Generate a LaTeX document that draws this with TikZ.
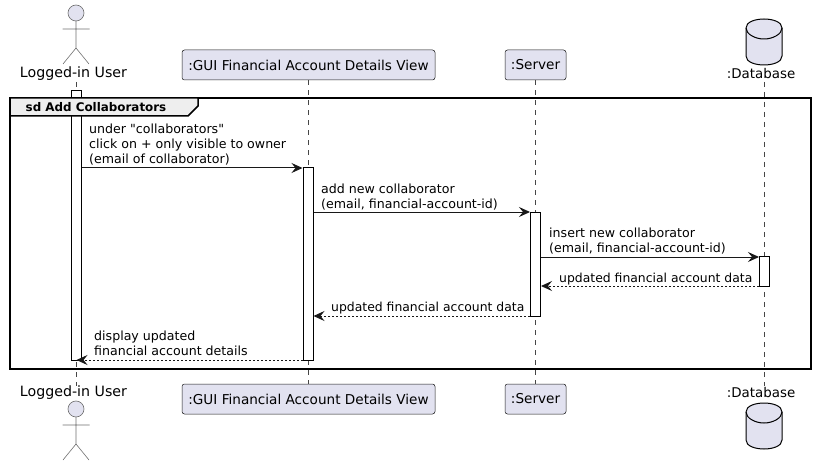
\documentclass[tikz,border=0pt]{standalone}
\usepackage{fontspec}
\setmainfont{DejaVu Sans}
\newfontfamily\msgfont{DejaVu Sans}
\usetikzlibrary{arrows.meta}
\begin{document}
\begin{tikzpicture}[x=1pt, y=-1pt]

    % Colors of the sequence chart
    \definecolor{partcol}{RGB}{226,226,240}
    \definecolor{tabcol}{RGB}{238,238,238}
    \definecolor{inkcol}{RGB}{24,24,24}
    \definecolor{stickcol}{RGB}{110,110,110}

    % Common styles
    \tikzset{
        partbox/.style={draw=inkcol, line width=0.5pt, fill=partcol, rounded corners=2.5pt,
            minimum height=30pt, inner xsep=0pt, inner ysep=0pt, font=\fontsize{13.6}{16}\selectfont},
        partlabel/.style={inner sep=0pt, minimum height=16pt, font=\fontsize{14.2}{16}\selectfont},
        lifeline/.style={draw=inkcol!80, line width=0.5pt, dash pattern=on 5pt off 5pt},
        actbar/.style={draw=black, line width=1pt, fill=white, minimum width=10pt, inner sep=0pt},
        msgtext/.style={anchor=south west, align=left, inner sep=0pt, text depth=0pt,
            font=\msgfont\fontsize{12.6}{15}\selectfont},
        shorttext/.style={msgtext, font=\msgfont\fontsize{12.4}{15}\selectfont},
        callmsg/.style={draw=inkcol, line width=1pt, -{Stealth[length=11pt, width=10pt, inset=4pt]}},
        backmsg/.style={draw=inkcol, line width=1pt, dash pattern=on 2pt off 2pt,
            -{Stealth[length=11pt, width=10pt, inset=4pt]}},
        stickman/.pic={
            \draw[stickcol, line width=0.6pt, fill=partcol] (0,13) circle (8);
            \draw[stickcol, line width=0.6pt] (0,21) -- (0,48) (-13.5,29) -- (13.5,29)
                (-13,64) -- (0,48) -- (13,64);
        },
        dbdrum/.pic={
            \draw[black, line width=1pt, fill=partcol] (-18,28) .. controls (-18,22) and (-9,19) .. (0,19)
                .. controls (9,19) and (18,22) .. (18,28) -- (18,56)
                .. controls (18,62) and (9,65) .. (0,65)
                .. controls (-9,65) and (-18,62) .. (-18,56) -- cycle;
            \draw[black, line width=1pt] (-18,28) .. controls (-18,34) and (-9,39) .. (0,39)
                .. controls (9,39) and (18,34) .. (18,28);
        }
    }

    \useasboundingbox (0,0) rectangle (816,465);

    % ============== Participants on top ==============
    \pic at (76,0) {stickman};
    \node[partlabel] (usertop) at (73.5,74) {Logged-in User};
    \node[partbox, minimum width=253pt] (guitop) at (308.5,65) {:GUI Financial Account Details View};
    \node[partbox, minimum width=61pt] (servertop) at (535.5,65) {:Server};
    \pic at (764,0) {dbdrum};
    \node[partlabel, font=\fontsize{13.4}{16}\selectfont] (dbtop) at (761,74) {:Database};

    % ============== Participants below ===============
    \node[partlabel] (userbot) at (73.5,393) {Logged-in User};
    \pic at (76,396) {stickman};
    \node[partbox, minimum width=253pt] (guibot) at (308.5,399) {:GUI Financial Account Details View};
    \node[partbox, minimum width=61pt] (serverbot) at (535.5,399) {:Server};
    \node[partlabel, font=\fontsize{13.4}{16}\selectfont] (dbbot) at (761,393) {:Database};
    \pic at (764,384) {dbdrum};

    % ================== Lifelines ====================
    \coordinate (userup) at (76,82);
    \coordinate (userdown) at (76,386);
    \coordinate (dbup) at (764,82);
    \coordinate (dbdown) at (764,386);
    \draw[lifeline] (userup) -- (userdown);
    \draw[lifeline] (guitop.south) -- (guibot.north);
    \draw[lifeline] (servertop.south) -- (serverbot.north);
    \draw[lifeline] (dbup) -- (dbdown);

    % ================= Activation bars ===============
    \node[actbar, minimum height=269pt] (userbar) at (76.5,225.5) {};
    \node[actbar, minimum height=192pt] (guibar) at (308,264) {};
    \node[actbar, minimum height=104pt] (serverbar) at (535.5,264) {};
    \node[actbar, minimum height=30pt] (dbbar) at (764.5,271) {};

    % ================== Outer frame ==================
    \draw[black, line width=2pt] (10,98) rectangle (811,369);
    \draw[black, line width=1.5pt, fill=tabcol] (10,98) -- (198,98) -- (198,106)
        -- (188,116) -- (10,116) -- cycle;
    \node[inner sep=0pt, font=\fontsize{11.9}{15}\selectfont\bfseries] (sdtitle) at (96,107.5)
        {sd Add Collaborators};

    % =================== Messages ====================
    \coordinate (rowa) at (0,168);
    \coordinate (rowb) at (0,212);
    \coordinate (rowc) at (0,257);
    \coordinate (rowd) at (0,286);
    \coordinate (rowe) at (0,316);
    \coordinate (rowf) at (0,360);

    \draw[callmsg] (userbar.east |- rowa) -- (guibar.west |- rowa);
    \draw[callmsg] (guibar.east |- rowb) -- (serverbar.west |- rowb);
    \draw[callmsg] (serverbar.east |- rowc) -- (dbbar.west |- rowc);
    \draw[backmsg] (dbbar.west |- rowd) -- (serverbar.east |- rowd);
    \draw[backmsg] (serverbar.west |- rowe) -- (guibar.east |- rowe);
    \draw[backmsg] (guibar.west |- rowf) -- (userbar.center |- rowf);

    \node[msgtext] (texta) at (89,163.5)
        {under "collaborators"\\click on + only visible to owner\\(email of collaborator)};
    \node[msgtext] (textb) at (321,208.5)
        {add new collaborator\\(email, financial-account-id)};
    \node[msgtext] (textc) at (549,253)
        {insert new collaborator\\(email, financial-account-id)};
    \node[shorttext] (textd) at (559,283) {updated financial account data};
    \node[shorttext] (texte) at (331,312) {updated financial account data};
    \node[msgtext] (textf) at (94,356) {display updated\\financial account details};

\end{tikzpicture}
\end{document}
